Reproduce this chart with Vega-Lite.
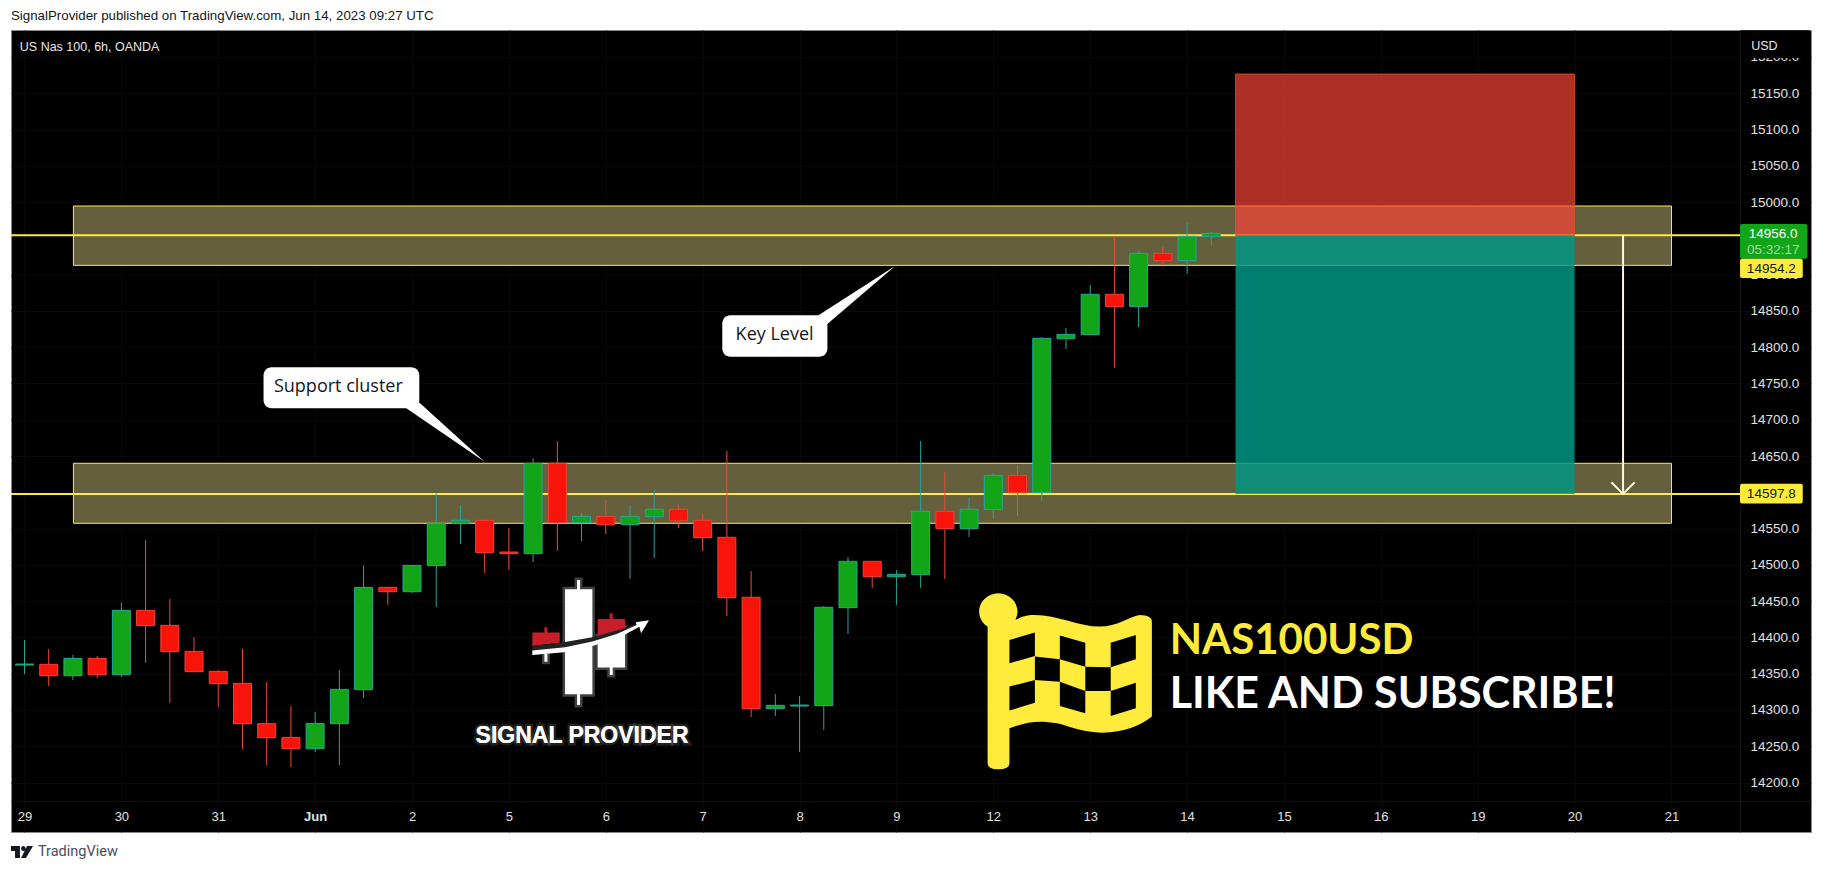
{"$schema":"https://vega.github.io/schema/vega-lite/v6.json","width":1800,"height":802,"autosize":"none","padding":{"left":11,"top":30,"right":12,"bottom":40},"background":"#ffffff","view":{"fill":"#000000","stroke":"#8a8a8a"},
"title":{"text":"SignalProvider published on TradingView.com, Jun 14, 2023 09:27 UTC","anchor":"start","frame":"group","offset":8,"font":"Liberation Sans","fontSize":13.3,"fontWeight":"normal","color":"#131722"},
"datasets":{
"candles":[
{"i":0,"open":14361.9,"close":14363.3,"high":14396.4,"low":14349.5,"dir":"up"},
{"i":1,"open":14362.9,"close":14347.2,"high":14384.0,"low":14333.0,"dir":"down"},
{"i":2,"open":14347.2,"close":14371.1,"high":14375.7,"low":14341.3,"dir":"up"},
{"i":3,"open":14371.1,"close":14348.6,"high":14374.3,"low":14344.0,"dir":"down"},
{"i":4,"open":14348.6,"close":14437.3,"high":14448.3,"low":14345.4,"dir":"up"},
{"i":5,"open":14437.3,"close":14416.2,"high":14534.3,"low":14364.7,"dir":"down"},
{"i":6,"open":14416.6,"close":14380.3,"high":14452.9,"low":14309.6,"dir":"down"},
{"i":7,"open":14380.8,"close":14352.8,"high":14400.5,"low":14352.8,"dir":"down"},
{"i":8,"open":14353.2,"close":14336.2,"high":14355.1,"low":14304.0,"dir":"down"},
{"i":9,"open":14336.7,"close":14281.1,"high":14384.0,"low":14246.1,"dir":"down"},
{"i":10,"open":14281.1,"close":14261.8,"high":14338.5,"low":14224.1,"dir":"down"},
{"i":11,"open":14262.2,"close":14246.6,"high":14305.4,"low":14221.3,"dir":"down"},
{"i":12,"open":14246.6,"close":14281.5,"high":14297.1,"low":14242.0,"dir":"up"},
{"i":13,"open":14281.1,"close":14328.4,"high":14355.1,"low":14224.1,"dir":"up"},
{"i":14,"open":14327.9,"close":14469.0,"high":14499.3,"low":14316.4,"dir":"up"},
{"i":15,"open":14469.0,"close":14463.0,"high":14469.0,"low":14444.6,"dir":"down"},
{"i":16,"open":14463.0,"close":14499.3,"high":14499.3,"low":14461.2,"dir":"up"},
{"i":17,"open":14498.9,"close":14557.2,"high":14598.6,"low":14441.9,"dir":"up"},
{"i":18,"open":14557.2,"close":14561.4,"high":14582.0,"low":14528.7,"dir":"up"},
{"i":19,"open":14561.4,"close":14516.8,"high":14561.4,"low":14488.8,"dir":"down"},
{"i":20,"open":14517.7,"close":14515.4,"high":14550.8,"low":14492.9,"dir":"down"},
{"i":21,"open":14515.4,"close":14639.9,"high":14646.8,"low":14503.9,"dir":"up"},
{"i":22,"open":14639.9,"close":14558.1,"high":14670.7,"low":14519.1,"dir":"down"},
{"i":23,"open":14558.1,"close":14566.9,"high":14571.5,"low":14532.9,"dir":"up"},
{"i":24,"open":14566.9,"close":14555.4,"high":14589.4,"low":14542.5,"dir":"down"},
{"i":25,"open":14555.4,"close":14566.9,"high":14582.5,"low":14480.5,"dir":"up"},
{"i":26,"open":14566.4,"close":14576.6,"high":14603.2,"low":14509.5,"dir":"up"},
{"i":27,"open":14576.6,"close":14560.9,"high":14582.5,"low":14550.8,"dir":"down"},
{"i":28,"open":14561.4,"close":14537.5,"high":14570.1,"low":14519.1,"dir":"down"},
{"i":29,"open":14538.0,"close":14454.8,"high":14657.0,"low":14429.5,"dir":"down"},
{"i":30,"open":14455.3,"close":14301.8,"high":14491.5,"low":14290.3,"dir":"down"},
{"i":31,"open":14301.8,"close":14306.4,"high":14322.0,"low":14291.7,"dir":"up"},
{"i":32,"open":14305.4,"close":14306.8,"high":14319.2,"low":14242.0,"dir":"up"},
{"i":33,"open":14305.9,"close":14441.5,"high":14443.3,"low":14272.4,"dir":"up"},
{"i":34,"open":14441.0,"close":14504.9,"high":14510.8,"low":14404.7,"dir":"up"},
{"i":35,"open":14504.9,"close":14483.7,"high":14504.9,"low":14468.1,"dir":"down"},
{"i":36,"open":14483.7,"close":14486.9,"high":14492.9,"low":14444.7,"dir":"up"},
{"i":37,"open":14486.5,"close":14573.8,"high":14670.7,"low":14468.1,"dir":"up"},
{"i":38,"open":14573.8,"close":14549.9,"high":14628.0,"low":14480.5,"dir":"down"},
{"i":39,"open":14549.9,"close":14576.6,"high":14592.2,"low":14538.4,"dir":"up"},
{"i":40,"open":14576.1,"close":14623.4,"high":14626.6,"low":14563.2,"dir":"up"},
{"i":41,"open":14623.4,"close":14599.5,"high":14637.7,"low":14567.4,"dir":"down"},
{"i":42,"open":14599.5,"close":14812.2,"high":14814.0,"low":14588.4,"dir":"up"},
{"i":43,"open":14811.7,"close":14817.7,"high":14826.5,"low":14797.5,"dir":"up"},
{"i":44,"open":14817.3,"close":14872.9,"high":14885.7,"low":14817.3,"dir":"up"},
{"i":45,"open":14872.9,"close":14855.9,"high":14953.3,"low":14771.8,"dir":"down"},
{"i":46,"open":14855.9,"close":14929.4,"high":14932.6,"low":14827.8,"dir":"up"},
{"i":47,"open":14929.4,"close":14919.3,"high":14938.1,"low":14911.0,"dir":"down"},
{"i":48,"open":14919.3,"close":14952.8,"high":14971.2,"low":14900.9,"dir":"up"},
{"i":49,"open":14952.4,"close":14956.9,"high":14958.8,"low":14940.9,"dir":"up"}
],
"zones":[{"i":2.02,"i2":68.0,"p":14994.6,"p2":14912.8},{"i":2.02,"i2":68.0,"p":14640.0,"p2":14557.3}],
"levels":[{"i":-0.557,"i2":70.83,"p":14954.2},{"i":-0.557,"i2":70.83,"p":14597.8}],
"risk":[{"i":50,"i2":64,"p":15176.6,"p2":14954.2}],
"reward":[{"i":50,"i2":64,"p":14954.2,"p2":14597.8}],
"arrow":[{"i":66,"p":14954.2,"p2":14597.8}],
"head":[{"i":65.52,"p":14613.8,"n":1},{"i":66,"p":14597.8,"n":2},{"i":66.48,"p":14613.8,"n":3}],
"cover":[{"i":70.86,"i2":73.7,"p":15237,"p2":15198.7}],
"greenBadge":[{"i":70.83,"i2":73.61,"p":14969.8,"p2":14922}],
"yellowBadges":[{"i":70.83,"i2":73.42,"p":14922,"p2":14895.4},{"i":70.83,"i2":73.42,"p":14611.9,"p2":14584.7}],
"callouts":[{"i":9.87,"i2":16.3,"p":14772.3,"p2":14715.8},{"i":28.81,"i2":33.15,"p":14844,"p2":14786.9}],
"calloutText":[{"i":12.96,"p":14744.8,"label":"Support cluster"},{"i":30.97,"p":14816.9,"label":"Key Level"}],
"tailA":[{"i":17.57,"p":14685.9}],
"tailB":[{"i":34.5,"p":14878.9}],
"logo":[{"i":23.35,"p":14391.9}],
"flag":[{"i":42.97,"p":14339.5}],
"tvLogo":[{"i":-0.103,"p":14104.2}],
"tvText":[{"i":0.557,"p":14104.2,"label":"TradingView"}],
"brand":[{"i":23.02,"p":14264,"label":"SIGNAL PROVIDER"}],
"sym":[{"i":47.28,"p":14395.5,"label":"NAS100USD"}],
"like":[{"i":47.28,"p":14321,"label":"LIKE AND SUBSCRIBE!"}],
"header":[{"i":-0.194,"p":15213.8,"label":"US Nas 100, 6h, OANDA"},{"i":71.29,"p":15214.8,"label":"USD"}],
"whiteBadge":[{"i":72.2,"p":14956,"label":"14956.0"}],
"countdown":[{"i":72.2,"p":14934,"label":"05:32:17"}],
"darkBadge":[{"i":72.12,"p":14907.8,"label":"14954.2"},{"i":72.12,"p":14597.5,"label":"14597.8"}]
},
"encoding":{
"x":{"field":"i","type":"quantitative","title":null,"scale":{"domain":[-0.557,73.76],"nice":false,"zero":false,"padding":0},
"axis":{"values":[0,4,8,12,16,20,24,28,32,36,40,44,48,52,56,60,64,68],"labelExpr":"['29','30','31','Jun','2','5','6','7','8','9','12','13','14','15','16','19','20','21'][datum.value/4]","labelFontWeight":{"expr":"datum.value==12?'bold':'normal'"},"offset":-31,"tickSize":0,"labelPadding":9,"labelFont":"Liberation Sans","labelFontSize":13,"labelColor":"#e0e0e0","domainColor":"#141414","grid":true,"gridColor":"#090909","labelOverlap":false,"labelFlush":false}},
"y":{"field":"p","type":"quantitative","title":null,"scale":{"domain":[14131.8,15237.2],"nice":false,"zero":false},
"axis":{"orient":"right","values":[14200,14250,14300,14350,14400,14450,14500,14550,14650,14700,14750,14800,14850,14900,15000,15050,15100,15150,15200],"format":".1f","offset":-71,"tickSize":0,"labelPadding":10,"labelFont":"Liberation Sans","labelFontSize":13.5,"labelColor":"#e0e0e0","domainColor":"#141414","grid":true,"gridColor":"#090909","labelOverlap":false}}
},
"layer":[
{"data":{"name":"zones"},"mark":{"type":"rect","fill":"#655f3d","stroke":"#ffeb3b","strokeWidth":1},"encoding":{"x2":{"field":"i2"},"y2":{"field":"p2"}}},
{"data":{"name":"levels"},"mark":{"type":"rule","color":"#ffeb3b","strokeWidth":2},"encoding":{"x2":{"field":"i2"}}},
{"data":{"name":"risk"},"mark":{"type":"rect","fill":"#fa4637","fillOpacity":0.69,"stroke":"#f4511e","strokeOpacity":0.7,"strokeWidth":1},"encoding":{"x2":{"field":"i2"},"y2":{"field":"p2"}}},
{"data":{"name":"reward"},"mark":{"type":"rect","fill":"#009887","fillOpacity":0.83},"encoding":{"x2":{"field":"i2"},"y2":{"field":"p2"}}},
{"data":{"name":"arrow"},"mark":{"type":"rule","color":"#fff8dc","strokeWidth":2},"encoding":{"y2":{"field":"p2"}}},
{"data":{"name":"head"},"mark":{"type":"line","color":"#fff8dc","strokeWidth":2},"encoding":{"order":{"field":"n","type":"quantitative"}}},
{"data":{"name":"candles"},"mark":{"type":"rule","strokeWidth":1},"encoding":{"y":{"field":"low","type":"quantitative","title":null,"scale":{"domain":[14131.8,15237.2],"nice":false,"zero":false}},"y2":{"field":"high"},"color":{"field":"dir","type":"nominal","legend":null,"scale":{"domain":["up","down"],"range":["#26a69a","#f04a3c"]}}}},
{"data":{"name":"candles"},"mark":{"type":"bar","size":18,"orient":"vertical","strokeWidth":1},"encoding":{"y":{"field":"open","type":"quantitative","title":null,"scale":{"domain":[14131.8,15237.2],"nice":false,"zero":false}},"y2":{"field":"close"},"fill":{"field":"dir","type":"nominal","legend":null,"scale":{"domain":["up","down"],"range":["#12a518","#f8130b"]}},"stroke":{"field":"dir","type":"nominal","legend":null,"scale":{"domain":["up","down"],"range":["#26a69a","#f44336"]}}}},
{"data":{"name":"tailA"},"mark":{"type":"point","filled":true,"opacity":1,"color":"#ffffff","size":40000,"shape":"M -0.437 -0.217 L 0.345 0.317 L -0.347 -0.31 L -0.45 -0.31 Z"}},
{"data":{"name":"tailB"},"mark":{"type":"point","filled":true,"opacity":1,"color":"#ffffff","size":40000,"shape":"M -0.416 0.253 L 0.35 -0.24 L -0.327 0.34 L -0.45 0.38 Z"}},
{"data":{"name":"callouts"},"mark":{"type":"rect","fill":"#ffffff","cornerRadius":8},"encoding":{"x2":{"field":"i2"},"y2":{"field":"p2"}}},
{"data":{"name":"calloutText"},"mark":{"type":"text","font":"Open Sans","fontSize":18,"fontWeight":"normal","color":"#131722","align":"center","baseline":"middle"},"encoding":{"text":{"field":"label"}}},
{"data":{"name":"logo"},"mark":{"type":"point","filled":true,"opacity":1,"fill":"#ffffff","stroke":"#ffffff","strokeWidth":5,"strokeOpacity":0.25,"size":32400,"shape":"M -0.278 -0.6 L -0.144 -0.6 L -0.144 -0.704 L -0.111 -0.704 L -0.111 -0.6 L 0.026 -0.6 L 0.026 0.567 L -0.111 0.567 L -0.111 0.685 L -0.144 0.685 L -0.144 0.567 L -0.278 0.567 Z M 0.085 -0.081 L 0.389 -0.167 L 0.389 0.27 L 0.252 0.27 L 0.252 0.352 L 0.219 0.352 L 0.219 0.27 L 0.085 0.27 Z M -0.507 0.111 L -0.474 0.111 L -0.474 0.204 L -0.507 0.204 Z"}},
{"data":{"name":"logo"},"mark":{"type":"point","filled":true,"opacity":1,"fill":"#c81e29","stroke":null,"size":32400,"shape":"M 0.085 -0.27 L 0.219 -0.27 L 0.219 -0.333 L 0.252 -0.333 L 0.252 -0.27 L 0.389 -0.27 L 0.389 -0.167 L 0.085 -0.081 Z M -0.641 -0.119 L -0.507 -0.119 L -0.507 -0.178 L -0.474 -0.178 L -0.474 -0.119 L -0.337 -0.119 L -0.337 -0.007 L -0.641 0.03 Z"}},
{"data":{"name":"logo"},"mark":{"type":"point","filled":true,"opacity":1,"fill":"#222222","stroke":null,"size":32400,"shape":"M -0.641 0.03 L -0.278 -0.015 L 0.026 -0.067 L 0.37 -0.163 L 0.519 -0.222 L 0.519 -0.196 L 0.333 -0.081 L 0.056 0.015 L -0.259 0.089 L -0.641 0.13 Z"}},
{"data":{"name":"logo"},"mark":{"type":"point","filled":true,"opacity":1,"fill":"#ffffff","stroke":null,"size":32400,"shape":"M -0.641 0.081 L -0.278 0.044 L 0.026 -0.019 L 0.296 -0.104 L 0.519 -0.204 L 0.507 -0.233 L 0.656 -0.256 L 0.567 -0.111 L 0.548 -0.185 L 0.333 -0.067 L 0.056 0.022 L -0.259 0.096 L -0.641 0.13 Z"}},
{"data":{"name":"brand"},"mark":{"type":"text","font":"Liberation Sans","fontSize":23,"fontWeight":"bold","fill":"#ffffff","stroke":"#ffffff","strokeWidth":5,"strokeOpacity":0.15,"align":"center","baseline":"middle"},"encoding":{"text":{"field":"label"}}},
{"data":{"name":"brand"},"mark":{"type":"text","font":"Liberation Sans","fontSize":23,"fontWeight":"bold","fill":"#ffffff","align":"center","baseline":"middle"},"encoding":{"text":{"field":"label"}}},
{"data":{"name":"flag"},"mark":{"type":"point","filled":true,"opacity":1,"fill":"#ffeb3b","stroke":null,"size":57600,"shape":"M -0.647 -0.456 L -0.647 0.683 Q -0.647 0.733 -0.558 0.733 Q -0.465 0.733 -0.465 0.683 L -0.465 0.392 C -0.327 0.336 -0.216 0.322 -0.067 0.35 C 0.045 0.378 0.156 0.428 0.305 0.428 C 0.491 0.428 0.64 0.364 0.722 0.294 L 0.722 -0.497 Q 0.722 -0.553 0.621 -0.553 C 0.528 -0.539 0.435 -0.456 0.286 -0.456 C 0.119 -0.456 -0.067 -0.553 -0.253 -0.553 C -0.327 -0.553 -0.365 -0.539 -0.402 -0.517 Z M -0.718 -0.581 C -0.718 -0.497 -0.646 -0.428 -0.558 -0.428 C -0.47 -0.428 -0.398 -0.497 -0.398 -0.581 C -0.398 -0.665 -0.47 -0.734 -0.558 -0.734 C -0.646 -0.734 -0.718 -0.665 -0.718 -0.581 Z"}},
{"data":{"name":"flag"},"mark":{"type":"point","filled":true,"opacity":1,"fill":"#000000","stroke":null,"size":57600,"shape":"M -0.465 -0.344 L -0.253 -0.406 L -0.253 -0.211 L -0.465 -0.15 Z M -0.465 0.044 L -0.253 -0.011 L -0.253 0.178 L -0.465 0.244 Z M -0.253 -0.206 L -0.045 -0.183 L -0.045 0.003 L -0.253 -0.011 Z M -0.045 -0.381 L 0.167 -0.322 L 0.167 -0.122 L -0.045 -0.183 Z M -0.045 0.003 L 0.167 0.081 L 0.167 0.267 L -0.045 0.206 Z M 0.167 -0.122 L 0.379 -0.117 L 0.379 0.081 L 0.167 0.081 Z M 0.379 -0.322 L 0.588 -0.386 L 0.588 -0.183 L 0.379 -0.117 Z M 0.379 0.081 L 0.588 0.011 L 0.588 0.225 L 0.379 0.289 Z"}},
{"data":{"name":"sym"},"mark":{"type":"text","font":"Lato","fontSize":42,"fontWeight":"bold","color":"#ffeb3b","align":"left","baseline":"middle"},"encoding":{"text":{"field":"label"}}},
{"data":{"name":"like"},"mark":{"type":"text","font":"Lato","fontSize":43,"fontWeight":"bold","color":"#ffffff","align":"left","baseline":"middle"},"encoding":{"text":{"field":"label"}}},
{"data":{"name":"cover"},"mark":{"type":"rect","fill":"#000000"},"encoding":{"x2":{"field":"i2"},"y2":{"field":"p2"}}},
{"data":{"name":"greenBadge"},"mark":{"type":"rect","fill":"#12a518","cornerRadius":2},"encoding":{"x2":{"field":"i2"},"y2":{"field":"p2"}}},
{"data":{"name":"yellowBadges"},"mark":{"type":"rect","fill":"#ffeb3b","cornerRadius":2},"encoding":{"x2":{"field":"i2"},"y2":{"field":"p2"}}},
{"data":{"name":"whiteBadge"},"mark":{"type":"text","font":"Liberation Sans","fontSize":13.5,"color":"#ffffff","align":"center","baseline":"middle"},"encoding":{"text":{"field":"label"}}},
{"data":{"name":"countdown"},"mark":{"type":"text","font":"Liberation Sans","fontSize":13.5,"color":"#a6dba8","align":"center","baseline":"middle"},"encoding":{"text":{"field":"label"}}},
{"data":{"name":"darkBadge"},"mark":{"type":"text","font":"Liberation Sans","fontSize":13.5,"color":"#131722","align":"center","baseline":"middle"},"encoding":{"text":{"field":"label"}}},
{"data":{"name":"header"},"mark":{"type":"text","font":"Liberation Sans","fontSize":12.5,"color":"#e8e8e8","align":"left","baseline":"middle"},"encoding":{"text":{"field":"label"}}},
{"data":{"name":"tvLogo"},"mark":{"type":"point","filled":true,"opacity":1,"fill":"#131722","stroke":null,"size":576,"shape":"M -0.92 -0.5 L -0.17 -0.5 L -0.17 0.5 L -0.58 0.5 L -0.58 -0.08 L -0.92 -0.08 Z M 0.92 -0.5 L 0.33 0.5 L -0.08 0.5 L 0.42 -0.5 Z M -0.08 -0.29 C -0.08 -0.41 0.02 -0.5 0.12 -0.5 C 0.22 -0.5 0.3 -0.41 0.3 -0.29 C 0.3 -0.18 0.22 -0.09 0.12 -0.09 C 0.02 -0.09 -0.08 -0.18 -0.08 -0.29 Z"}},
{"data":{"name":"tvText"},"mark":{"type":"text","font":"Roboto","fontSize":14.5,"color":"#4a4e58","align":"left","baseline":"middle"},"encoding":{"text":{"field":"label"}}}
]}
